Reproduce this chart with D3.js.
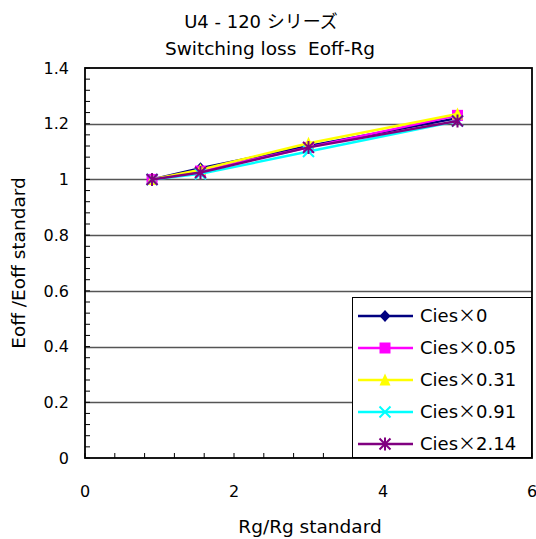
<!DOCTYPE html>
<html><head><meta charset="utf-8">
<script src="https://cdn.jsdelivr.net/npm/d3@7"></script>
<style>
html,body{margin:0;padding:0;background:#fff;}
text{font-family:"DejaVu Sans","Noto Sans CJK JP",sans-serif;fill:#000;}
.cjk{font-family:"Noto Sans CJK JP",sans-serif;}
</style></head>
<body>
<script>
const titleLines = ["U4 - 120 シリーズ", "Switching loss  Eoff-Rg"];
const xLabel = "Rg/Rg standard";
const yLabel = "Eoff /Eoff standard";
const xValues = [0.9, 1.55, 3.0, 5.0];
const seriesNames = ["Cies×0", "Cies×0.05", "Cies×0.31", "Cies×0.91", "Cies×2.14"];
const seriesColors = ["#000080", "#ff00ff", "#ffff00", "#00ffff", "#800080"];
const seriesMarkers = ["diamond", "square", "triangle", "cross", "star"];
const valsCies0 = [1.0, 1.04, 1.12, 1.22];
const valsCies005 = [1.0, 1.03, 1.115, 1.23];
const valsCies031 = [1.0, 1.035, 1.13, 1.235];
const valsCies091 = [1.0, 1.02, 1.10, 1.21];
const valsCies214 = [1.0, 1.025, 1.115, 1.21];
const seriesValues = [valsCies0, valsCies005, valsCies031, valsCies091, valsCies214];
const xTicks = [0, 2, 4, 6];
const yTicks = [0, 0.2, 0.4, 0.6, 0.8, 1, 1.2, 1.4];
const yTickLabels = ["0", "0.2", "0.4", "0.6", "0.8", "1", "1.2", "1.4"];

const W = 536, H = 539;
const svg = d3.select("body").append("svg").attr("width", W).attr("height", H);
const x = d3.scaleLinear().domain([0, 6]).range([85, 532]);
const y = d3.scaleLinear().domain([0, 1.4]).range([458, 68]);

// titles
svg.append("text").attr("x", 261).attr("y", 28).attr("text-anchor", "middle").style("font-size", "18px").text(titleLines[0]);
svg.append("text").attr("x", 270).attr("y", 55).attr("text-anchor", "middle").style("font-size", "18.5px")
  .style("white-space", "pre").attr("xml:space", "preserve").text(titleLines[1]);

// gridlines
svg.append("g").selectAll("line").data(yTicks.filter(d => d > 0 && d < 1.4)).join("line")
  .attr("x1", x(0)).attr("x2", x(6)).attr("y1", d => Math.round(y(d)) + 0.5).attr("y2", d => Math.round(y(d)) + 0.5)
  .attr("stroke", "#555").attr("stroke-width", 1.4);

// minor ticks (inward)
const yMinor = d3.range(0, 1.4001, 0.04);
svg.append("g").selectAll("line").data(yMinor).join("line")
  .attr("x1", x(0)).attr("x2", x(0) + 5).attr("y1", d => y(d)).attr("y2", d => y(d))
  .attr("stroke", "#000").attr("stroke-width", 1);
const xMinor = d3.range(0, 6.001, 0.4);
svg.append("g").selectAll("line").data(xMinor).join("line")
  .attr("x1", d => x(d)).attr("x2", d => x(d)).attr("y1", y(0)).attr("y2", y(0) - 5)
  .attr("stroke", "#000").attr("stroke-width", 1);

// frame
svg.append("rect").attr("x", x(0)).attr("y", y(1.4)).attr("width", x(6) - x(0)).attr("height", y(0) - y(1.4))
  .attr("fill", "none").attr("stroke", "#000").attr("stroke-width", 1.8);

// tick labels
svg.append("g").selectAll("text").data(yTicks).join("text")
  .attr("x", 69).attr("y", d => y(d)).attr("dy", "0.36em").attr("text-anchor", "end")
  .style("font-size", "16px").text((d, i) => yTickLabels[i]);
svg.append("g").selectAll("text").data(xTicks).join("text")
  .attr("x", d => x(d)).attr("y", 497).attr("text-anchor", "middle")
  .style("font-size", "16px").text(d => d);

// axis titles
svg.append("text").attr("x", 310).attr("y", 533).attr("text-anchor", "middle").style("font-size", "18.5px").text(xLabel);
svg.append("text").attr("transform", "translate(25,263) rotate(-90)").attr("text-anchor", "middle")
  .style("font-size", "18.5px").style("white-space", "pre").attr("xml:space", "preserve").text(yLabel);

function drawMarker(g, type, color, cx, cy) {
  const s = 5.5;
  if (type === "diamond") {
    g.append("path").attr("d", `M${cx},${cy - s - 0.5}L${cx + s},${cy}L${cx},${cy + s + 0.5}L${cx - s},${cy}Z`).attr("fill", color);
  } else if (type === "square") {
    g.append("rect").attr("x", cx - s).attr("y", cy - s).attr("width", 2 * s).attr("height", 2 * s).attr("fill", color);
  } else if (type === "triangle") {
    g.append("path").attr("d", `M${cx},${cy - s - 1}L${cx + s},${cy + s}L${cx - s},${cy + s}Z`).attr("fill", color);
  } else if (type === "cross") {
    g.append("path").attr("d", `M${cx - s},${cy - s}L${cx + s},${cy + s}M${cx - s},${cy + s}L${cx + s},${cy - s}`)
      .attr("stroke", color).attr("stroke-width", 2).attr("fill", "none");
  } else if (type === "star") {
    g.append("path").attr("d", `M${cx - s},${cy - s}L${cx + s},${cy + s}M${cx - s},${cy + s}L${cx + s},${cy - s}M${cx},${cy - s - 1}L${cx},${cy + s + 1}`)
      .attr("stroke", color).attr("stroke-width", 2).attr("fill", "none");
  }
}

// series
const line = d3.line().x((d, i) => x(xValues[i])).y(d => y(d));
const plot = svg.append("g");
seriesValues.forEach((vals, si) => {
  plot.append("path").datum(vals).attr("d", line).attr("fill", "none")
    .attr("stroke", seriesColors[si]).attr("stroke-width", 2.5);
  vals.forEach((v, i) => drawMarker(plot, seriesMarkers[si], seriesColors[si], x(xValues[i]), y(v)));
});

// legend
const lg = svg.append("g");
lg.append("rect").attr("x", 352.5).attr("y", 297.5).attr("width", 179).attr("height", 160)
  .attr("fill", "#fff").attr("stroke", "#000").attr("stroke-width", 1);
seriesNames.forEach((name, i) => {
  const ly = 316 + i * 32;
  lg.append("line").attr("x1", 358).attr("x2", 413).attr("y1", ly).attr("y2", ly)
    .attr("stroke", seriesColors[i]).attr("stroke-width", 2.5);
  drawMarker(lg, seriesMarkers[i], seriesColors[i], 385, ly);
  const parts = name.split("×");
  const t = lg.append("text").attr("x", 420).attr("y", ly).attr("dy", "0.36em").style("font-size", "18px");
  t.append("tspan").text(parts[0]);
  t.append("tspan").attr("class", "cjk").text("×");
  t.append("tspan").text(parts[1]);
});
</script>
</body></html>
